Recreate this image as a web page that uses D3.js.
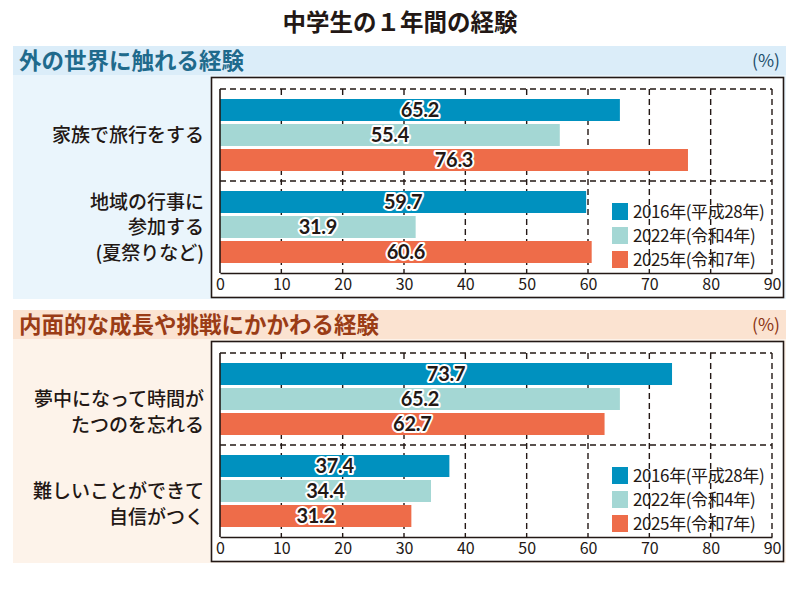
<!DOCTYPE html>
<html><head><meta charset="utf-8">
<script src="https://cdn.jsdelivr.net/npm/d3@7"></script>
<style>
body{margin:0;background:#fff;}
svg{display:block;font-family:"Noto Sans CJK JP","Noto Sans",sans-serif;}
</style></head>
<body><svg id="c" width="800" height="590"></svg>
<script>
// ---- data ----
const title = "中学生の１年間の経験";
const series = ["2016年(平成28年)", "2022年(令和4年)", "2025年(令和7年)"];
const panelTitles = ["外の世界に触れる経験", "内面的な成長や挑戦にかかわる経験"];
const panel1Categories = [["家族で旅行をする"], ["地域の行事に", "参加する", "(夏祭りなど)"]];
const panel2Categories = [["夢中になって時間が", "たつのを忘れる"], ["難しいことができて", "自信がつく"]];
const panel1Values = [[65.2, 55.4, 76.3], [59.7, 31.9, 60.6]];
const panel2Values = [[73.7, 65.2, 62.7], [37.4, 34.4, 31.2]];
const xTicks = [0, 10, 20, 30, 40, 50, 60, 70, 80, 90];
const unitLabel = "(%)";

// ---- style ----
const colors = ["#0091bf", "#a4d7d4", "#ee6c49"];
const themes = [
  {head:"#dbedf9", body:"#eaf5fc", text:"#1f6a8c", unit:"#1d4d6b"},
  {head:"#fbe3d1", body:"#fdf3ea", text:"#9a3c16", unit:"#8a3312"}
];
const svg = d3.select("#c");

svg.append("text").attr("x", 400).attr("y", 31).attr("text-anchor", "middle")
  .attr("font-size", 23.5).attr("font-weight", 700).attr("fill", "#231815").text(title);

const panels = [
  {cats: panel1Categories, vals: panel1Values},
  {cats: panel2Categories, vals: panel2Values}
];

const x = d3.scaleLinear().domain([0, 90]).range([220, 772]);

panels.forEach((p, pi) => {
  const oy = pi * 264;
  const th = themes[pi];
  const g = svg.append("g").attr("transform", `translate(0,${oy})`);
  // backgrounds
  g.append("rect").attr("x", 13).attr("y", 46).attr("width", 773).attr("height", 29).attr("fill", th.head);
  g.append("rect").attr("x", 13).attr("y", 75).attr("width", 773).attr("height", 224).attr("fill", th.body);
  g.append("text").attr("x", 19).attr("y", 69).attr("font-size", 22.5).attr("font-weight", 700)
    .attr("fill", th.text).text(panelTitles[pi]);
  g.append("text").attr("x", 780).attr("y", 67).attr("text-anchor", "end").attr("font-size", 17.5)
    .attr("fill", th.unit).text(unitLabel);
  // chart box
  g.append("rect").attr("x", 211.5).attr("y", 77.5).attr("width", 572).attr("height", 220)
    .attr("fill", "#fff").attr("stroke", "#231815").attr("stroke-width", 1.6);

  const y0 = d3.scaleBand().domain(d3.range(p.cats.length)).range([89, 273]);
  const y1 = d3.scaleBand().domain(d3.range(series.length)).range([10, y0.bandwidth() - 10]).paddingInner(0.12);

  const grid = g.append("g").attr("stroke", "#231815").attr("stroke-width", 1.4).attr("stroke-dasharray", "6,4");
  grid.selectAll("line.h").data(d3.range(p.cats.length)).join("line")
    .attr("x1", x(0)).attr("x2", x(90))
    .attr("y1", d => y0(d)).attr("y2", d => y0(d));
  grid.selectAll("line.v").data(xTicks.slice(1)).join("line")
    .attr("x1", d => x(d)).attr("x2", d => x(d)).attr("y1", 89).attr("y2", 273);

  // bars
  p.vals.forEach((vals, ci) => {
    const gg = g.append("g").attr("transform", `translate(0,${y0(ci)})`);
    gg.selectAll("rect").data(vals).join("rect")
      .attr("x", x(0)).attr("y", (d, i) => y1(i))
      .attr("width", d => x(d) - x(0)).attr("height", y1.bandwidth())
      .attr("fill", (d, i) => colors[i]);
    gg.selectAll("text").data(vals).join("text")
      .attr("x", d => (x(0) + x(d)) / 2).attr("y", (d, i) => y1(i) + y1.bandwidth() / 2 + 7)
      .attr("text-anchor", "middle").attr("font-size", 20).attr("font-weight", 700)
      .attr("font-family", "Lato, 'Noto Sans', sans-serif")
      .attr("fill", "#231815").attr("stroke", "#fff").attr("stroke-width", 4)
      .attr("stroke-linejoin", "round").attr("paint-order", "stroke")
      .attr("letter-spacing", "-0.3").text(d => d.toFixed(1));
    // category labels
    const lines = p.cats[ci];
    const lh = 25.5;
    const shift = lines.length === 2 ? 13 : 0;
    const cy = y0(ci) + y0.bandwidth() / 2;
    g.append("text").attr("text-anchor", "end").attr("font-size", 19).attr("font-weight", 500)
      .attr("fill", "#231815")
      .selectAll("tspan").data(lines).join("tspan")
      .attr("x", 204)
      .attr("y", (d, i) => cy - (lines.length - 1) * lh / 2 + shift + i * lh + 7)
      .text(d => d);
  });

  // axes
  const ax = g.append("g").attr("transform", "translate(0,273)")
    .call(d3.axisBottom(x).tickValues(xTicks).tickSize(0).tickPadding(6));
  ax.select(".domain").attr("stroke", "#231815").attr("stroke-width", 1.6);
  ax.selectAll("text").attr("font-size", 16).attr("fill", "#231815")
    .attr("font-family", "'Noto Sans CJK JP','Noto Sans',sans-serif");
  g.append("line").attr("x1", x(0)).attr("x2", x(0)).attr("y1", 89).attr("y2", 273)
    .attr("stroke", "#231815").attr("stroke-width", 1.6);

  // legend
  const lg = g.append("g").attr("transform", "translate(612,203)");
  series.forEach((s, i) => {
    lg.append("rect").attr("x", 0).attr("y", i * 24).attr("width", 16).attr("height", 17).attr("fill", colors[i]);
    lg.append("text").attr("x", 21).attr("y", i * 24 + 15).attr("font-size", 17)
      .attr("fill", "#231815").attr("letter-spacing", "-0.4").text(s);
  });
});
</script></body></html>
